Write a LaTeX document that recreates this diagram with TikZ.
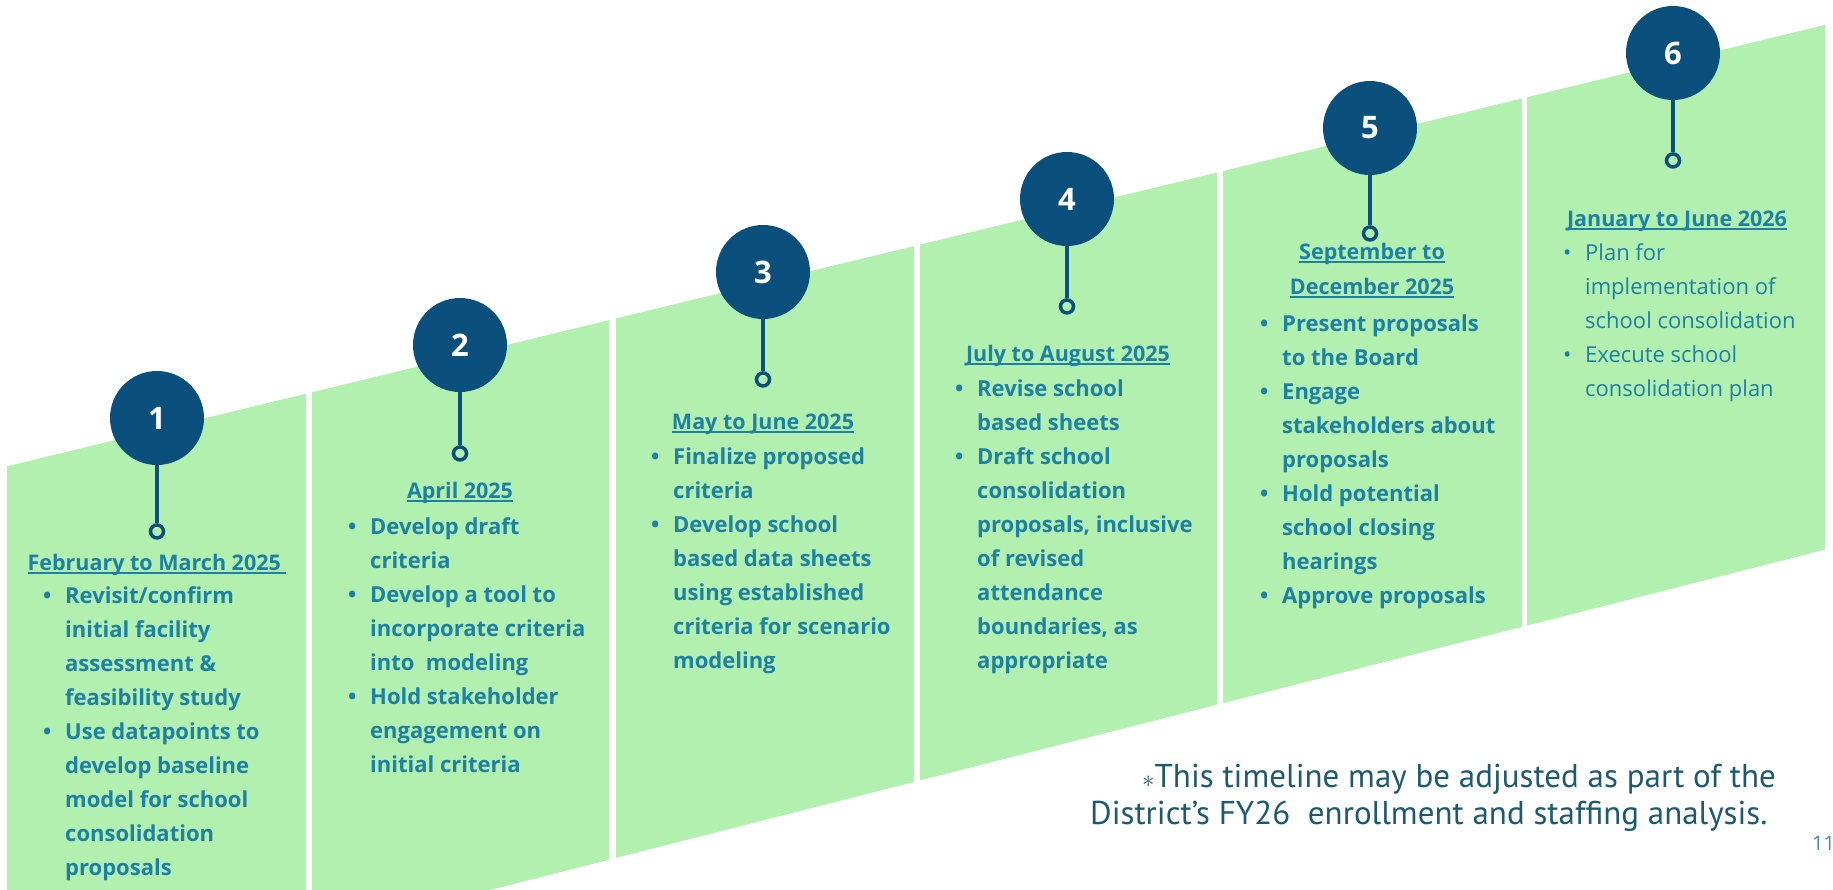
\documentclass[tikz,border=0pt]{standalone}
\usepackage{fontspec}
\setmainfont{Open Sans}
\newfontfamily\notefont{PT Sans}
\usepackage{xcolor}
\definecolor{bandgreen}{HTML}{B2F0B0}
\definecolor{stepnavy}{HTML}{0B4F7C}
\definecolor{stepteal}{HTML}{1E80A3}
\definecolor{noteink}{HTML}{1D5A72}
\definecolor{pageblue}{HTML}{4A8AC8}
\usepackage{tikz}
\usetikzlibrary{positioning}

\newsavebox{\ulbox}
\newcommand{\dateul}[1]{\sbox{\ulbox}{#1}\rlap{\rule[-3pt]{\wd\ulbox}{1.6pt}}\usebox{\ulbox}}
\newcommand{\bitem}{\makebox[22pt][l]{\textbullet}}
\newcommand{\bcont}{\hspace*{22pt}}

\tikzset{
    band/.style={fill=bandgreen},
    stepdot/.style={circle, fill=stepnavy, minimum size=94pt, inner sep=0pt, text=white,
        font=\fontsize{31}{31}\selectfont\bfseries},
    stepring/.style={circle, draw=stepnavy, line width=3.5pt, fill=bandgreen, minimum size=13pt, inner sep=0pt},
    stem/.style={draw=stepnavy, line width=4pt},
    datehead/.style={anchor=north, inner sep=0pt, align=center, text=stepteal,
        font=\fontsize{21.5}{35}\selectfont\bfseries},
    bullets/.style={anchor=north west, inner sep=0pt, align=left, text=stepteal,
        font=\fontsize{22}{34}\selectfont\bfseries},
    bulletslight/.style={anchor=north west, inner sep=0pt, align=left, text=stepteal,
        font=\fontsize{22}{34}\selectfont},
    note/.style={anchor=base west, inner sep=0pt, text=noteink, font=\notefont\fontsize{33}{33}\selectfont},
}

\begin{document}
\begin{tikzpicture}[x=1pt, y=-1pt]
    \def\tA{468}
    \def\tS{0.2428}
    \def\bA{1015}
    \def\bS{0.255}

    \fill[white] (0,0) rectangle (1833,889);
    \useasboundingbox (0,0) rectangle (1833,889);

    % Sloped green strips
    \fill[band] (7,{\tA-\tS*7}) -- (306,{\tA-\tS*306}) -- (306,{\bA-\bS*306}) -- (7,{\bA-\bS*7}) -- cycle;
    \fill[band] (312,{\tA-\tS*312}) -- (609,{\tA-\tS*609}) -- (609,{\bA-\bS*609}) -- (312,{\bA-\bS*312}) -- cycle;
    \fill[band] (616,{\tA-\tS*616}) -- (914,{\tA-\tS*914}) -- (914,{\bA-\bS*914}) -- (616,{\bA-\bS*616}) -- cycle;
    \fill[band] (920,{\tA-\tS*920}) -- (1217,{\tA-\tS*1217}) -- (1217,{\bA-\bS*1217}) -- (920,{\bA-\bS*920}) -- cycle;
    \fill[band] (1223,{\tA-\tS*1223}) -- (1522,{\tA-\tS*1522}) -- (1522,{\bA-\bS*1522}) -- (1223,{\bA-\bS*1223}) -- cycle;
    \fill[band] (1527,{\tA-\tS*1527}) -- (1825,{\tA-\tS*1825}) -- (1825,{\bA-\bS*1825}) -- (1527,{\bA-\bS*1527}) -- cycle;

    % Step markers
    \node[stepdot] (n1) at (157,418) {1};
    \node[stepdot] (n2) at (460,345) {2};
    \node[stepdot] (n3) at (763,272) {3};
    \node[stepdot] (n4) at (1067,199) {4};
    \node[stepdot] (n5) at (1370,128) {5};
    \node[stepdot] (n6) at (1673,53) {6};

    \node[stepring, below=58pt of n1] (r1) {};
    \node[stepring, below=53pt of n2] (r2) {};
    \node[stepring, below=52pt of n3] (r3) {};
    \node[stepring, below=52pt of n4] (r4) {};
    \node[stepring, below=50pt of n5] (r5) {};
    \node[stepring, below=52pt of n6] (r6) {};

    \draw[stem] (n1) -- (r1);
    \draw[stem] (n2) -- (r2);
    \draw[stem] (n3) -- (r3);
    \draw[stem] (n4) -- (r4);
    \draw[stem] (n5) -- (r5);
    \draw[stem] (n6) -- (r6);

    % Date headings
    \node[datehead] (d1) at (157,546) {\strut\dateul{February to March 2025\ }};
    \node[datehead] (d2) at (460,474) {\strut\dateul{April 2025}};
    \node[datehead] (d3) at (763,405) {\strut\dateul{May to June 2025}};
    \node[datehead] (d4) at (1068,337) {\strut\dateul{July to August 2025}};
    \node[datehead] (d5) at (1372,235) {\strut\dateul{September to}\\\dateul{December 2025}};
    \node[datehead] (d6) at (1677,202) {\strut\dateul{January to June 2026}};

    % Task lists
    \node[bullets] (t1) at (43,579) {\strut\bitem Revisit/confirm\\
        \bcont initial facility\\
        \bcont assessment \&\\
        \bcont feasibility study\\
        \bitem Use datapoints to\\
        \bcont develop baseline\\
        \bcont model for school\\
        \bcont consolidation\\
        \bcont proposals};
    \node[bullets] (t2) at (348,510) {\strut\bitem Develop draft\\
        \bcont criteria\\
        \bitem Develop a tool to\\
        \bcont incorporate criteria\\
        \bcont into\ \ modeling\\
        \bitem Hold stakeholder\\
        \bcont engagement on\\
        \bcont initial criteria};
    \node[bullets] (t3) at (651,440) {\strut\bitem Finalize proposed\\
        \bcont criteria\\
        \bitem Develop school\\
        \bcont based data sheets\\
        \bcont using established\\
        \bcont criteria for scenario\\
        \bcont modeling};
    \node[bullets] (t4) at (955,372) {\strut\bitem Revise school\\
        \bcont based sheets\\
        \bitem Draft school\\
        \bcont consolidation\\
        \bcont proposals, inclusive\\
        \bcont of revised\\
        \bcont attendance\\
        \bcont boundaries, as\\
        \bcont appropriate};
    \node[bullets] (t5) at (1260,307) {\strut\bitem Present proposals\\
        \bcont to the Board\\
        \bitem Engage\\
        \bcont stakeholders about\\
        \bcont proposals\\
        \bitem Hold potential\\
        \bcont school closing\\
        \bcont hearings\\
        \bitem Approve proposals};
    \node[bulletslight] (t6) at (1563,236) {\strut\bitem Plan for\\
        \bcont implementation of\\
        \bcont school consolidation\\
        \bitem Execute school\\
        \bcont consolidation plan};

    % Footnote and page number
    \node[note] (note1) at (1142,787) {$\ast$This timeline may be adjusted as part of the};
    \node[note] (note2) at (1090,824) {District’s FY26~ enrollment and staffing analysis.};
    \node[anchor=base west, inner sep=0pt, text=pageblue, font=\fontsize{20}{20}\selectfont] (page) at (1812,850) {11};
\end{tikzpicture}
\end{document}
